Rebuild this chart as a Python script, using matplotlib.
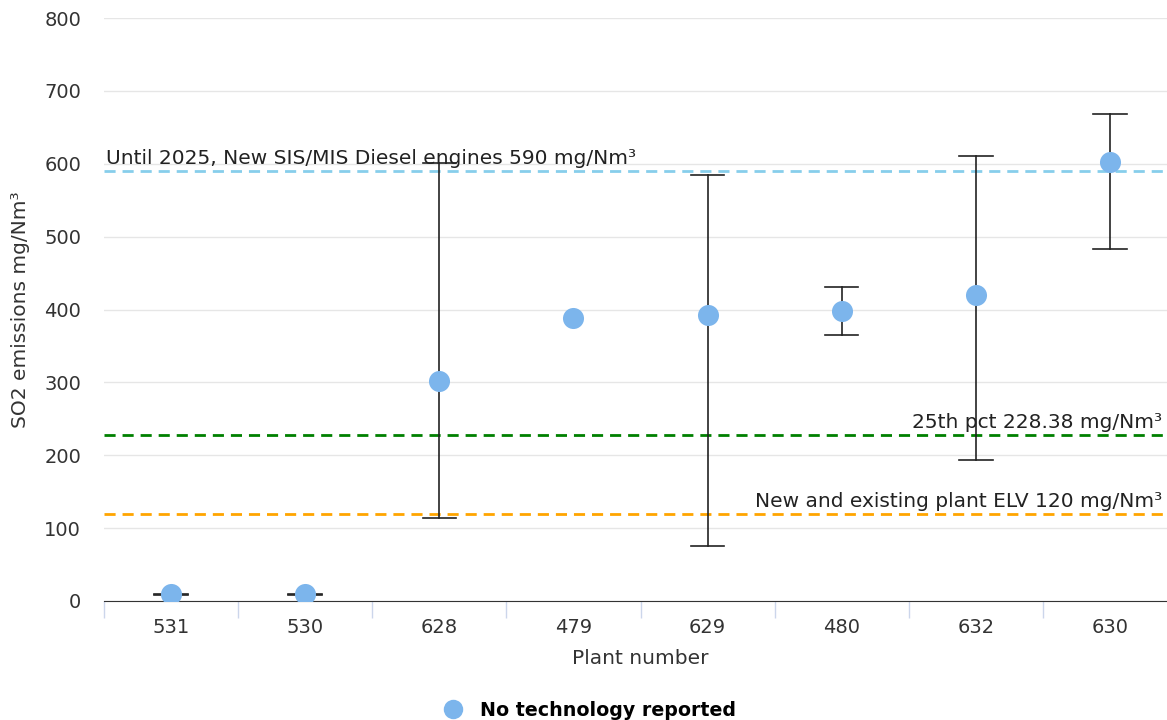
import matplotlib
matplotlib.use("Agg")
import matplotlib.pyplot as plt
from matplotlib.lines import Line2D

plt.rcParams["font.family"] = ["DejaVu Sans"]

plants = ["531", "530", "628", "479", "629", "480", "632", "630"]
values = [10, 9, 302, 388, 392, 398, 420, 602]
err_low = [8, 8, 114, None, 75, 365, 193, 483]
err_high = [9, 10, 601, None, 584, 431, 610, 668]

ref_values = [590, 228.38, 120]
ref_labels = ["Until 2025, New SIS/MIS Diesel engines 590 mg/Nm³",
              "25th pct 228.38 mg/Nm³",
              "New and existing plant ELV 120 mg/Nm³"]
ref_colors = ["#87CEEB", "#008000", "#FFA500"]

fig = plt.figure(figsize=(11.67, 7.2), dpi=100)
ax = fig.add_axes([104/1167, 1-601/720, 1073/1167, (601-18)/720])

x = list(range(len(plants)))
ax.set_xlim(-0.5, len(plants)-0.5)
ax.set_ylim(0, 800)
ax.set_yticks(range(0, 801, 100))
ax.grid(axis="y", color="#e6e6e6", linewidth=1)
ax.set_axisbelow(True)

for i in x:
    if err_low[i] is not None:
        ax.plot([i, i], [err_low[i], err_high[i]], color="#222222", lw=1.2, zorder=2)
        for v in (err_low[i], err_high[i]):
            ax.plot([i-0.125, i+0.125], [v, v], color="#222222", lw=1.2, zorder=2)

ax.scatter(x, values, s=230, color="#7cb5ec", zorder=3, linewidths=0)

for v, c in zip(ref_values, ref_colors):
    ax.axhline(v, color=c, linestyle=(0, (4, 2.5)), lw=2, zorder=1.5)
for i, (v, lab) in enumerate(zip(ref_values, ref_labels)):
    if i == 0:
        ax.text(2/1073, v + 4, lab, transform=ax.get_yaxis_transform(), ha="left",
                va="bottom", fontsize=14.5, color="#222222", zorder=4)
    else:
        ax.text(1058/1073, v + 4, lab, transform=ax.get_yaxis_transform(), ha="right",
                va="bottom", fontsize=14.5, color="#222222", zorder=4)

for s in ["top", "right", "left"]:
    ax.spines[s].set_visible(False)
ax.spines["bottom"].set_color("#333333")
ax.set_xticks(x)
ax.set_xticklabels(plants)
ax.set_xticks([i + 0.5 for i in range(-1, len(plants))], minor=True)
ax.tick_params(axis="x", which="major", length=0, pad=12, labelsize=14, colors="#333333")
ax.tick_params(axis="x", which="minor", length=12, color="#ccd6eb", width=1)
ax.tick_params(axis="y", length=0, pad=16.5, labelsize=14, colors="#333333")
ax.set_xlabel("Plant number", fontsize=14.5, color="#333333", labelpad=9)
ax.set_ylabel("SO2 emissions mg/Nm³", fontsize=14.5, color="#333333", labelpad=10)

handle = Line2D([], [], marker="o", linestyle="", markersize=14,
                markerfacecolor="#7cb5ec", markeredgewidth=0)
fig.legend([handle], ["No technology reported"], loc="center",
           bbox_to_anchor=(585/1167, 1-710/720), frameon=False,
           prop={"weight": "bold", "size": 13.7}, handletextpad=0.45)

fig.savefig("out.png", dpi=100)
